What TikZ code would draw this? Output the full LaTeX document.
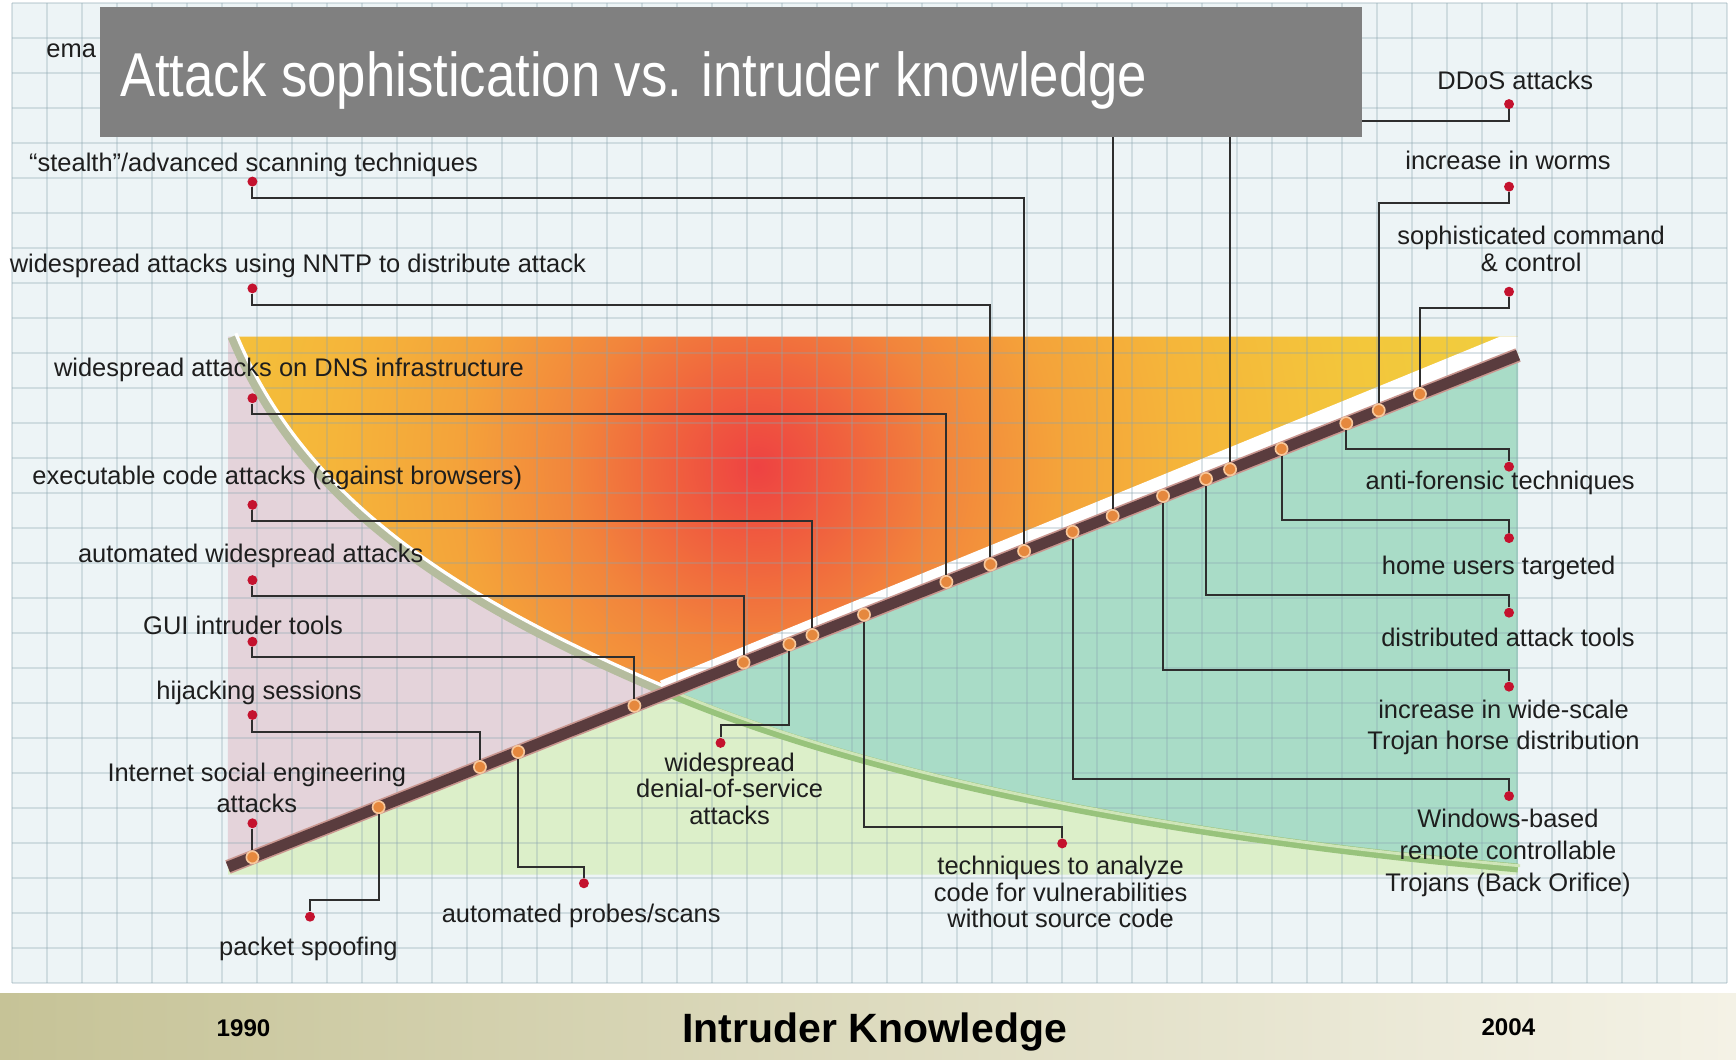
\documentclass[tikz,border=0pt]{standalone}
\usepackage{fontspec}
\setmainfont{Liberation Sans}
\newfontfamily\titlefont[FakeStretch=0.85]{Liberation Sans}
\usetikzlibrary{calc, positioning}

\definecolor{gridbg}{HTML}{EDF4F6}
\definecolor{gridline}{HTML}{8AA5B0}
\definecolor{pinkzone}{HTML}{E4D3DA}
\definecolor{tealzone}{HTML}{A9DCC7}
\definecolor{greenzone}{HTML}{DCEFC9}
\definecolor{heat0}{HTML}{EE4242}
\definecolor{heat1}{HTML}{F0603E}
\definecolor{heat2}{HTML}{F2853C}
\definecolor{heat3}{HTML}{F4A33A}
\definecolor{heat4}{HTML}{F5B53A}
\definecolor{heat5}{HTML}{F3C63B}
\definecolor{heat6}{HTML}{F0D040}
\definecolor{curveedge}{HTML}{B5BC9E}
\definecolor{curvegreen}{HTML}{98C37C}
\definecolor{curvelight}{HTML}{CFE5B8}
\definecolor{trend}{HTML}{5A3C3E}
\definecolor{trendedge}{HTML}{C9968F}
\definecolor{dotred}{HTML}{C4122E}
\definecolor{dotorange}{HTML}{E5883E}
\definecolor{dotring}{HTML}{F7C79B}
\definecolor{connline}{HTML}{2E2E2E}
\definecolor{labeltext}{HTML}{1E1E1E}
\definecolor{titlegray}{HTML}{808080}
\definecolor{bandL}{HTML}{C6C397}
\definecolor{bandR}{HTML}{F4F2E6}

\pgfdeclareradialshading{heat}{\pgfpoint{0bp}{0bp}}{color(0bp)=(heat0); color(2.4bp)=(heat1); color(5.2bp)=(heat2); color(8.5bp)=(heat3); color(12bp)=(heat4); color(17bp)=(heat5); color(23bp)=(heat6); color(50bp)=(heat6)}

% elbow from a point on the trend line to a red label dot
\newcommand{\linkto}[3]{\draw[conn] (#1) |- ($(#2)+(0,#3)$) -- (#2);}

\begin{document}
\begin{tikzpicture}[x=0.5pt, y=-0.5pt,
  lbl/.style={font=\fontsize{11.5}{14}\selectfont, text=labeltext, anchor=base, inner sep=0pt, align=center},
  rdot/.style={circle, fill=dotred, inner sep=0pt, minimum size=4.5pt},
  ldot/.style={circle, fill=dotorange, draw=dotring, line width=0.75pt, inner sep=0pt, minimum size=5.5pt},
  conn/.style={draw=connline, line width=0.9pt},
  gridln/.style={draw=gridline, opacity=0.3, line width=0.65pt}]

  \useasboundingbox (0,0) rectangle (1568,957);
  \fill[white] (0,0) rectangle (1568,957);

  % grid paper and axis band
  \fill[gridbg] (10.8,2.7) rectangle (1559.7,887.8);
  \shade[left color=bandL, right color=bandR] (0,897) rectangle (1568,957);

  % trend line and knowledge curve
  \coordinate (lineA) at (205.9,783.1);
  \coordinate (lineB) at (1371.1,320.7);
  \coordinate (c0) at (210,304);
  \coordinate (c1) at (271,452);
  \coordinate (c2) at (406,542);
  \coordinate (cx) at (602,625);
  \coordinate (c3) at (800,709);
  \coordinate (c4) at (1080,758);
  \coordinate (c5) at (1371,784);

  % zones
  \fill[pinkzone] (206,304) -- (c0) .. controls (c1) and (c2) .. (cx) -- (lineA) -- cycle;
  \fill[greenzone] (lineA) -- (cx) .. controls (c3) and (c4) .. (c5) -- (1371,790) -- (206,790) -- cycle;
  \fill[tealzone] (cx) -- (lineB) -- (c5) .. controls (c4) and (c3) .. (cx) -- cycle;
  \begin{scope}
    \clip (c0) .. controls (c1) and (c2) .. (cx) -- (lineB) -- (1371,304) -- cycle;
    \shade[shading=heat] (684,422) circle (800);
  \end{scope}
  \fill[white] ($(cx)+(-6,-10)$) -- (1355,304) -- (1371,304) -- (lineB) -- (cx) -- cycle;

  % grid lines over everything
  \foreach \k in {0,...,49}
    \draw[gridln] ({10.8+31.61*\k},2.7) -- ({10.8+31.61*\k},887.8);
  \foreach \k in {0,...,28}
    \draw[gridln] (10.8,{2.7+31.61*\k}) -- (1559.7,{2.7+31.61*\k});

  \draw[curveedge, line width=4.5pt] (c0) .. controls (c1) and (c2) .. (cx);
  \draw[white, line width=1.5pt, transform canvas={shift={(3,-3)}}] (c0) .. controls (c1) and (c2) .. (cx);
  \draw[curvegreen, line width=4pt] (cx) .. controls (c3) and (c4) .. (c5);
  \draw[curvelight, line width=1.3pt, transform canvas={shift={(2,-2)}}] (cx) .. controls (c3) and (c4) .. (c5);

  \draw[trendedge, line width=6.5pt] (lineA) -- (lineB);
  \draw[trend, line width=5pt] (lineA) -- (lineB);

  % points on the trend line
  \foreach \n/\x in {social/228, spoof/342, hijack/433.5, probes/468, gui/573,
      autowide/671.6, dos/713, exec/733.8, analyze/780.4, dns/854.8, nntp/894.6,
      stealth/925, windows/968.8, email/1005, trojan/1050.5, distrib/1089.3,
      ddos/1111, home/1157.5, anti/1216, worms/1245.3, command/1282.5}
    \node[ldot] (l-\n) at ({\x},{783.1-0.39685*(\x-205.9)}) {};

  % left labels (multi-line ones sit on their last line)
  \node[lbl] (t-stealth) at (229,154.5) {“stealth”/advanced scanning techniques};
  \node[rdot] (r-stealth) at (228,164) {};
  \node[lbl] (t-nntp) at (269,246.5) {widespread attacks using NNTP to distribute attack};
  \node[rdot] (r-nntp) at (228,260.5) {};
  \node[lbl] (t-dns) at (261,340.5) {widespread attacks on DNS infrastructure};
  \node[rdot] (r-dns) at (228,359.7) {};
  \node[lbl] (t-exec) at (250.5,437.5) {executable code attacks (against browsers)};
  \node[rdot] (r-exec) at (228,456) {};
  \node[lbl] (t-autowide) at (226.5,508.3) {automated widespread attacks};
  \node[rdot] (r-autowide) at (228,524) {};
  \node[lbl] (t-gui) at (219.5,573) {GUI intruder tools};
  \node[rdot] (r-gui) at (228,579.6) {};
  \node[lbl] (t-hijack) at (234,631.8) {hijacking sessions};
  \node[rdot] (r-hijack) at (228,645.8) {};
  \node[lbl] (t-social) at (232,734) {Internet social engineering\\attacks};
  \node[rdot] (r-social) at (228,743.6) {};

  % bottom labels
  \node[lbl] (t-spoof) at (278.5,863) {packet spoofing};
  \node[rdot] (r-spoof) at (280,828) {};
  \node[lbl] (t-probes) at (525,833.5) {automated probes/scans};
  \node[rdot] (r-probes) at (527.4,797.8) {};
  \node[lbl, font=\fontsize{11.5}{12}\selectfont] (t-dos) at (659,744.7) {widespread\\denial-of-service\\attacks};
  \node[rdot] (r-dos) at (650.8,671) {};
  \node[lbl, font=\fontsize{11.5}{12}\selectfont] (t-analyze) at (958,838) {techniques to analyze\\code for vulnerabilities\\without source code};
  \node[rdot] (r-analyze) at (959.4,761.8) {};

  % right labels
  \node[lbl] (t-ddos) at (1368.6,80.8) {DDoS attacks};
  \node[rdot] (r-ddos) at (1363,94) {};
  \node[lbl] (t-worms) at (1362,153) {increase in worms};
  \node[rdot] (r-worms) at (1363,168.6) {};
  \node[lbl, font=\fontsize{11.5}{12}\selectfont] (t-command) at (1383,244.8) {sophisticated command\\\& control};
  \node[rdot] (r-command) at (1363,263.5) {};
  \node[lbl] (t-anti) at (1355,442) {anti-forensic techniques};
  \node[rdot] (r-anti) at (1363,421.5) {};
  \node[lbl] (t-home) at (1353.6,519) {home users targeted};
  \node[rdot] (r-home) at (1363,486) {};
  \node[lbl] (t-distrib) at (1362,583.6) {distributed attack tools};
  \node[rdot] (r-distrib) at (1363,553.4) {};
  \node[lbl] (t-trojan) at (1358,677) {increase in wide-scale\\Trojan horse distribution};
  \node[rdot] (r-trojan) at (1363,620.2) {};
  \node[lbl, font=\fontsize{11.5}{14.5}\selectfont] (t-windows) at (1362,805) {Windows-based\\remote controllable\\Trojans (Back Orifice)};
  \node[rdot] (r-windows) at (1363,719) {};

  % connectors
  \linkto{l-stealth}{r-stealth}{15}
  \linkto{l-nntp}{r-nntp}{15}
  \linkto{l-dns}{r-dns}{14}
  \linkto{l-exec}{r-exec}{15}
  \linkto{l-autowide}{r-autowide}{14}
  \linkto{l-gui}{r-gui}{14}
  \linkto{l-hijack}{r-hijack}{15}
  \draw[conn] (l-social) -- (r-social);
  \linkto{l-spoof}{r-spoof}{-15}
  \linkto{l-probes}{r-probes}{-15}
  \linkto{l-dos}{r-dos}{-16}
  \linkto{l-analyze}{r-analyze}{-15}
  \linkto{l-ddos}{r-ddos}{15}
  \linkto{l-worms}{r-worms}{15}
  \linkto{l-command}{r-command}{15}
  \linkto{l-anti}{r-anti}{-16}
  \linkto{l-home}{r-home}{-16}
  \linkto{l-distrib}{r-distrib}{-16}
  \linkto{l-trojan}{r-trojan}{-15}
  \linkto{l-windows}{r-windows}{-15}
  \coordinate (e-top) at (1005,60);
  \draw[conn] (l-email) -- (e-top);

  % axis texts
  \node[font=\bfseries\fontsize{10.9}{12}\selectfont] (y1990) at (220,928.6) {1990};
  \node[font=\bfseries\fontsize{18.5}{20}\selectfont] (xaxis) at (790,932) {Intruder Knowledge};
  \node[font=\bfseries\fontsize{10.9}{12}\selectfont] (y2004) at (1362.4,927.4) {2004};

  % title box
  \node[lbl, anchor=base west] (t-email) at (41.5,52) {ema};
  \fill[titlegray] (90,6) rectangle (1230,123.5);
  \node[anchor=base west, inner sep=0pt, text=white, font=\titlefont\fontsize{28}{32}\selectfont] (title) at (108,87) {Attack sophistication vs. intruder knowledge};
\end{tikzpicture}
\end{document}
